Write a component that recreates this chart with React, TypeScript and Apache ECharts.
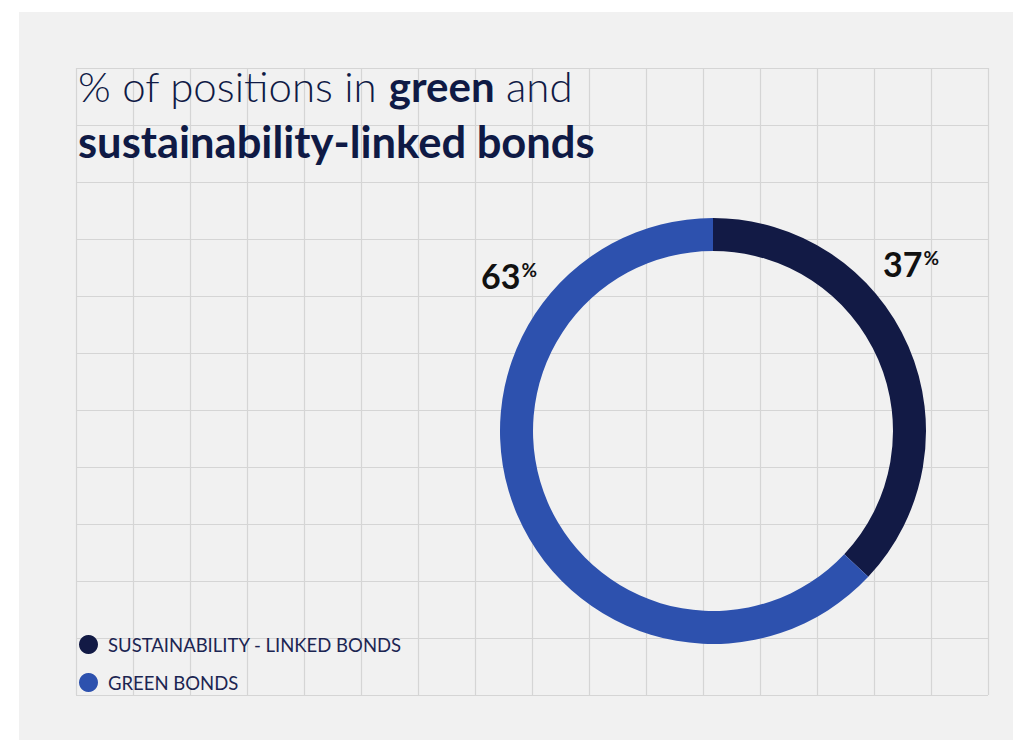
import React, { useEffect, useRef } from "react";
import * as echarts from "echarts";

const categories = ["SUSTAINABILITY - LINKED BONDS", "GREEN BONDS"];
const values = [37, 63];
const colors = ["#121a45", "#2d51ae"];
const gridColumns = 16;
const gridRows = 11;
const titleLine1Light = "% of positions in ";
const titleLine1Bold = "green";
const titleLine1End = " and";
const titleLine2 = "sustainability-linked bonds";

export default function App() {
  const ref = useRef<HTMLDivElement>(null);
  useEffect(() => {
    if (!ref.current) return;
    const chart = echarts.init(ref.current, undefined, { renderer: "svg" });
    const font = "Lato";
    const pct = (v: number) => `{n|${v}}{p|%}`;
    const labelRich = {
      n: { fontSize: 34, fontWeight: "bold", fontFamily: font, fill: "#111111" },
      p: { fontSize: 19, fontWeight: "bold", fontFamily: font, fill: "#111111", verticalAlign: "top", padding: [2, 0, 0, 1] },
    };
    chart.setOption({
      animation: false,
      backgroundColor: "#ffffff",
      grid: { left: 76, top: 68, width: 912, height: 627, show: false },
      xAxis: {
        type: "value",
        min: 0,
        max: gridColumns,
        interval: 1,
        axisLabel: { show: false },
        axisTick: { show: false },
        axisLine: { show: false },
        splitLine: { show: true, lineStyle: { color: "#d5d5d5", width: 1.2 } },
      },
      yAxis: {
        type: "value",
        min: 0,
        max: gridRows,
        interval: 1,
        axisLabel: { show: false },
        axisTick: { show: false },
        axisLine: { show: false },
        splitLine: { show: true, lineStyle: { color: "#d5d5d5", width: 1.2 } },
      },
      legend: {
        orient: "vertical",
        left: 74,
        top: 630,
        icon: "circle",
        itemWidth: 19,
        itemHeight: 19,
        itemGap: 19,
        data: categories,
        textStyle: { fontFamily: font, fontSize: 18.5, color: "#1c2552", padding: [0, 0, 0, 5] },
        selectedMode: false,
      },
      graphic: [
        { type: "rect", z: -10, zlevel: 0, silent: true, shape: { x: 19, y: 12, width: 994, height: 728 }, style: { fill: "#f1f1f1" } },
        {
          type: "text",
          x: 78,
          y: 86,
          z: 10,
          style: {
            text: `{l|${titleLine1Light}}{b|${titleLine1Bold}}{l|${titleLine1End}}`,
            verticalAlign: "middle",
            fill: "#0f1a45",
            rich: {
              l: { fontFamily: font, fontWeight: 300, fontSize: 42, fill: "#0f1a45" },
              b: { fontFamily: font, fontWeight: "bold", fontSize: 42, fill: "#0f1a45" },
            },
          },
        },
        {
          type: "text",
          x: 78,
          y: 141,
          z: 10,
          style: {
            text: titleLine2,
            fontFamily: font,
            fontWeight: "bold",
            fontSize: 43.5,
            fill: "#0f1a45",
            verticalAlign: "middle",
          },
        },
        {
          type: "text",
          x: 481,
          y: 275,
          z: 10,
          style: { text: pct(values[1]), verticalAlign: "middle", fill: "#111111", rich: labelRich },
        },
        {
          type: "text",
          x: 883,
          y: 263,
          z: 10,
          style: { text: pct(values[0]), verticalAlign: "middle", fill: "#111111", rich: labelRich },
        },
      ],
      series: [
        {
          type: "pie",
          center: [713, 431],
          radius: [180, 213],
          startAngle: 90,
          clockwise: true,
          label: { show: false },
          labelLine: { show: false },
          emphasis: { disabled: true },
          data: categories.map((name, i) => ({ name, value: values[i], itemStyle: { color: colors[i] } })),
        },
      ],
    });
    return () => chart.dispose();
  }, []);
  return <div ref={ref} style={{ position: "fixed", left: 0, top: 0, width: 1013, height: 740 }} />;
}
